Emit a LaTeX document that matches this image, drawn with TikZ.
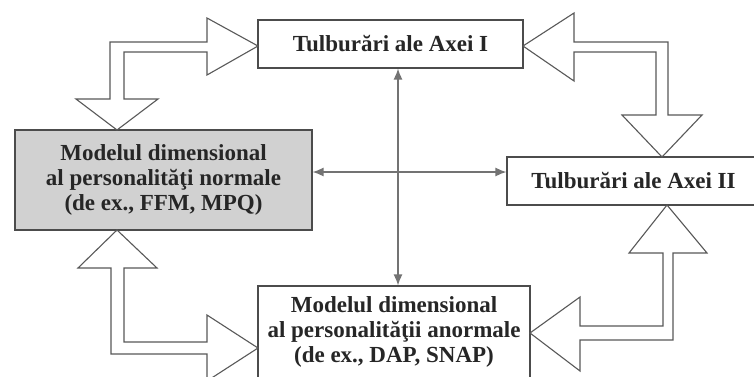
\documentclass[tikz,border=0pt]{standalone}
\usepackage{fontspec}
\setmainfont{Liberation Serif}
\usetikzlibrary{arrows.meta}

\tikzset{
  box/.style={draw=black!70, line width=1.2pt, fill=white, inner sep=0pt,
    align=center, font=\bfseries\fontsize{23}{25}\selectfont, text=black!85},
  link/.style={draw=black!55, line width=1.3pt,
    {Latex[length=11pt,width=9pt]}-{Latex[length=11pt,width=9pt]}},
  fat/.style={draw=black!65, line width=1.1pt, line join=miter}
}

\begin{document}
\begin{tikzpicture}[x=1pt,y=-1pt]
\useasboundingbox[fill=white] (0,0) rectangle (754,376);
% boxes
\node[box, minimum width=265pt, minimum height=48pt] (axa1) at (390.5,44)
  {Tulburări ale Axei I};
\node[box, fill=black!18, minimum width=297pt, minimum height=100pt] (normal) at (163.5,180)
  {Modelul dimensional\\al personalităţi normale\\(de ex., FFM, MPQ)};
\node[box, minimum width=253pt, minimum height=48pt] (axa2) at (633.5,181)
  {Tulburări ale Axei II};
\node[box, minimum width=272pt, minimum height=92pt] (anormal) at (394,332)
  {Modelul dimensional\\al personalităţii anormale\\(de ex., DAP, SNAP)};

% thin two-way links
\draw[link] ([xshift=7.5pt]axa1.south) -- ([xshift=7.5pt]axa1.south |- anormal.north);
\draw[link] ([yshift=8pt]normal.east) -- ([yshift=8pt]normal.east -| axa2.west);

% hollow two-way arrows
\draw[fat] (117,130) -- (158,99) -- (124,99) -- (124,52) -- (207,52) -- (207,75)
  -- (258,46) -- (207,18) -- (207,42) -- (110,42) -- (110,99) -- (76,99) -- cycle;
\draw[fat] (523,46) -- (574,13) -- (574,42) -- (668,42) -- (668,115) -- (702,115)
  -- (662,157) -- (622,115) -- (656,115) -- (656,52) -- (574,52) -- (574,81) -- cycle;
\draw[fat] (117,230) -- (157,268) -- (124,268) -- (124,342) -- (207,342) -- (207,315)
  -- (258,348) -- (207,381) -- (207,354) -- (111,354) -- (111,268) -- (78,268) -- cycle;
\draw[fat] (667,205) -- (707,253) -- (673,253) -- (673,340) -- (580,340) -- (580,371)
  -- (530,333) -- (580,297) -- (580,326) -- (663,326) -- (663,253) -- (629,253) -- cycle;
\end{tikzpicture}
\end{document}
